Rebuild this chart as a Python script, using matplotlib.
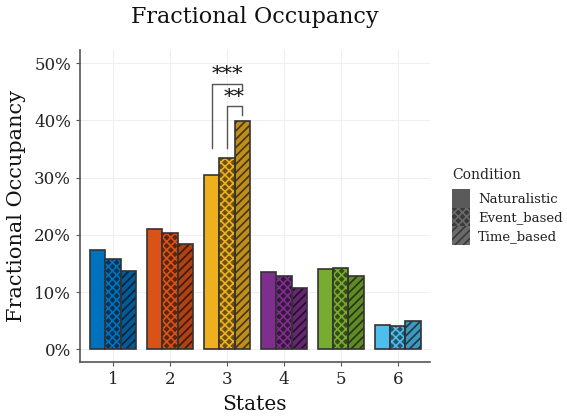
import matplotlib
matplotlib.use('Agg')
import matplotlib.pyplot as plt
import matplotlib.patches as mpatches
import matplotlib.ticker as ticker
import numpy as np

# данные
states = ['1', '2', '3', '4', '5', '6']
conditions = ['Naturalistic', 'Event_based', 'Time_based']
naturalistic = [17.4, 21.0, 30.5, 13.6, 14.1, 4.3]
event_based = [15.8, 20.4, 33.4, 12.8, 14.2, 4.1]
time_based = [13.7, 18.5, 39.9, 10.7, 12.9, 5.0]
state_colors = ['#0072BD', '#D95319', '#EDB120', '#7E2F8E', '#77AC30', '#4DBEEE']

plt.rcParams['font.family'] = ['DejaVu Serif']
plt.rcParams['hatch.linewidth'] = 1.2

fig = plt.figure(figsize=(5.67, 4.2), dpi=100)
ax = fig.add_axes([0.141, 0.138, 0.617, 0.743])

x = np.arange(1, len(states) + 1)
w = 0.8 / 3
edge = '#333333'


def darker(c, f):
    rgb = np.array(matplotlib.colors.to_rgb(c))
    return tuple(rgb * f)


for i in range(len(states)):
    c = state_colors[i]
    # Naturalistic - сплошной
    ax.bar(x[i] - w, naturalistic[i], w, color=c, edgecolor=edge, linewidth=1.2, zorder=3)
    # Event_based - клетка
    ax.bar(x[i], event_based[i], w, color=darker(c, 0.45), edgecolor=c, hatch='xxxx', linewidth=0, zorder=3)
    ax.bar(x[i], event_based[i], w, fill=False, edgecolor=edge, linewidth=1.2, zorder=4)
    # Time_based - штриховка
    ax.bar(x[i] + w, time_based[i], w, color=darker(c, 0.8), edgecolor=darker(c, 0.3), hatch='////', linewidth=0, zorder=3)
    ax.bar(x[i] + w, time_based[i], w, fill=False, edgecolor=edge, linewidth=1.2, zorder=4)

ax.set_xlim(0.42, 6.56)
ax.set_ylim(-2.2, 52.3)
ax.set_xticks(x)
ax.set_xticklabels(states)
ax.yaxis.set_major_locator(ticker.MultipleLocator(10))
ax.yaxis.set_major_formatter(ticker.FuncFormatter(lambda v, p: f'{v:.0f}%'))
ax.grid(True, color='#efefef', linewidth=0.8, zorder=0)
for s in ['top', 'right']:
    ax.spines[s].set_visible(False)
for s in ['left', 'bottom']:
    ax.spines[s].set_color('#555555')
    ax.spines[s].set_linewidth(1.2)
ax.tick_params(axis='both', colors='#555555', length=3, labelsize=12, labelcolor='#222222')

ax.set_ylabel('Fractional Occupancy', fontsize=15, color='#111111', labelpad=6)
ax.set_xlabel('States', fontsize=14.5, color='#111111', labelpad=5)
fig.suptitle('Fractional Occupancy', fontsize=16, x=0.45, y=0.985, color='#111111')

# значимость
bc = '#555555'
x_nat = x[2] - w
x_ev = x[2]
x_tm = x[2] + w
ax.plot([x_nat, x_nat, x_tm, x_tm], [35.1, 46.4, 46.4, 45.4], color=bc, linewidth=1, zorder=5)
ax.text((x_nat + x_tm) / 2, 46.3, '***', ha='center', va='bottom', fontsize=15, color='#111111')
ax.plot([x_ev, x_ev, x_tm, x_tm], [35.1, 42.5, 42.5, 41.0], color=bc, linewidth=1, zorder=5)
ax.text((x_ev + x_tm) / 2, 42.4, '**', ha='center', va='bottom', fontsize=15, color='#111111')

# легенда
key = '#5a5a5a'
handles = [
    mpatches.Patch(facecolor=key, edgecolor=key, linewidth=0),
    mpatches.Patch(facecolor='#3a3a3a', edgecolor='#6a6a6a', hatch='xxxx', linewidth=0),
    mpatches.Patch(facecolor='#6a6a6a', edgecolor='#3a3a3a', hatch='////', linewidth=0),
]
fig.text(0.797, 0.583, 'Condition', ha='left', va='center', fontsize=10, color='#222222')
leg = fig.legend(handles, conditions, loc='upper left', bbox_to_anchor=(0.797, 0.55),
                 frameon=False, fontsize=9.5,
                 handlelength=1.4, handleheight=1.8, handletextpad=0.6, labelspacing=0.0,
                 borderaxespad=0, borderpad=0)
for t in leg.get_texts():
    t.set_color('#222222')

fig.savefig('out.png', dpi=100)
plt.close(fig)
